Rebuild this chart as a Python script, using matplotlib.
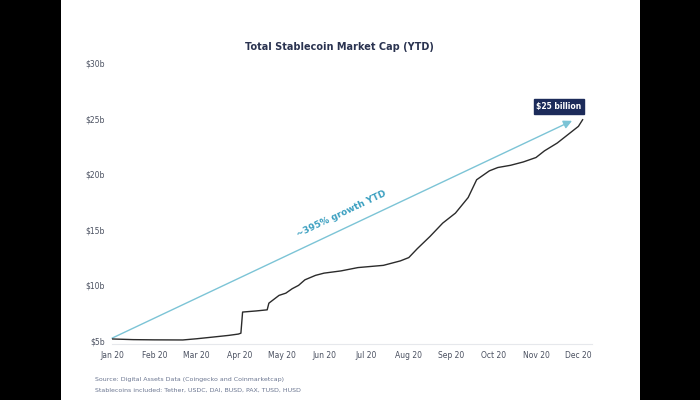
import matplotlib
matplotlib.use("Agg")
import matplotlib.pyplot as plt
from matplotlib.patches import Rectangle

# ---- data ----
month_labels = ["Jan 20", "Feb 20", "Mar 20", "Apr 20", "May 20", "Jun 20",
                "Jul 20", "Aug 20", "Sep 20", "Oct 20", "Nov 20", "Dec 20"]
y_ticks = [5, 10, 15, 20, 25, 30]
y_tick_labels = ["$5b", "$10b", "$15b", "$20b", "$25b", "$30b"]

# position in months since Jan 20 and market cap in $ billions
month_pos = [0.0, 0.5, 1.0, 1.67, 2.0, 2.38, 2.75, 2.98, 3.04, 3.08, 3.4, 3.66,
             3.7, 3.94, 4.1, 4.25, 4.4, 4.55, 4.8, 5.0, 5.4, 5.8, 6.1, 6.4,
             6.8, 7.0, 7.2, 7.5, 7.8, 8.1, 8.4, 8.6, 8.9, 9.1, 9.4, 9.7,
             10.0, 10.2, 10.5, 10.8, 11.0, 11.1]
cap_bn = [5.18, 5.12, 5.1, 5.09, 5.2, 5.35, 5.5, 5.62, 5.7, 7.6, 7.7, 7.8,
          8.4, 9.1, 9.3, 9.7, 10.0, 10.5, 10.9, 11.1, 11.3, 11.6, 11.7, 11.8,
          12.2, 12.5, 13.3, 14.4, 15.6, 16.5, 17.9, 19.5, 20.3, 20.6, 20.8, 21.1,
          21.5, 22.1, 22.8, 23.7, 24.3, 24.9]

arrow_start = (0.0, 5.25)
arrow_end = (10.85, 24.8)
growth_text = "~395% growth YTD"
end_label = "$25 billion"
title = "Total Stablecoin Market Cap (YTD)"
source_lines = ["Source: Digital Assets Data (Coingecko and Coinmarketcap)",
                "Stablecoins included: Tether, USDC, DAI, BUSD, PAX, TUSD, HUSD"]

# ---- figure ----
fig = plt.figure(figsize=(7, 4), dpi=100, facecolor="black")
fig.patches.append(Rectangle((61 / 700, 0), (640 - 61) / 700, 1,
                             transform=fig.transFigure, facecolor="white",
                             edgecolor="none", zorder=-5))

left_px, right_px = 112, 592
top_px, bottom_px = 63, 344.3
ax = fig.add_axes([left_px / 700, 1 - bottom_px / 400,
                   (right_px - left_px) / 700, (bottom_px - top_px) / 400])
ax.set_zorder(5)
ax.set_facecolor("none")
ax.set_xlim(0, (right_px - left_px) / 42.4)
ax.set_ylim(4.7, 30)

ax.plot(month_pos, cap_bn, color="#2b2b2b", lw=1.0, zorder=3)

ax.annotate("", xy=arrow_end, xytext=arrow_start,
            arrowprops=dict(arrowstyle="-|>,head_length=0.5,head_width=0.25",
                            color="#7cc4d6", lw=1.0, shrinkA=0, shrinkB=0),
            zorder=2)
ax.text(5.4, 16.4, growth_text, color="#3a9fc0", fontsize=6.5,
        fontweight="bold", rotation=25.3, ha="center", va="center",
        rotation_mode="anchor")
ax.text(10.54, 26.1, end_label, color="white", fontsize=5.5,
        fontweight="bold", ha="center", va="center",
        bbox=dict(boxstyle="square,pad=0.35", facecolor="#1c2b5a",
                  edgecolor="#1c2b5a"))

ax.set_xticks(range(len(month_labels)))
ax.set_xticklabels(month_labels, fontsize=5.5, color="#4a5060")
ax.set_yticks(y_ticks)
ax.set_yticklabels(y_tick_labels, fontsize=5.5, color="#4a5060")
ax.tick_params(length=0, pad=5)
for s in ["top", "right", "left"]:
    ax.spines[s].set_visible(False)
ax.spines["bottom"].set_color("#e6e8ec")
ax.spines["bottom"].set_linewidth(0.8)

fig.text(339 / 700, 1 - 47 / 400, title, fontsize=7, fontweight="bold",
         color="#2a3350", ha="center", va="center", zorder=6)
fig.text(95 / 700, 1 - 380 / 400, source_lines[0], fontsize=4.5,
         color="#6a7590", ha="left", va="center", zorder=6)
fig.text(95 / 700, 1 - 390 / 400, source_lines[1], fontsize=4.5,
         color="#6a7590", ha="left", va="center", zorder=6)

fig.savefig("out.png", dpi=100, facecolor="black")
